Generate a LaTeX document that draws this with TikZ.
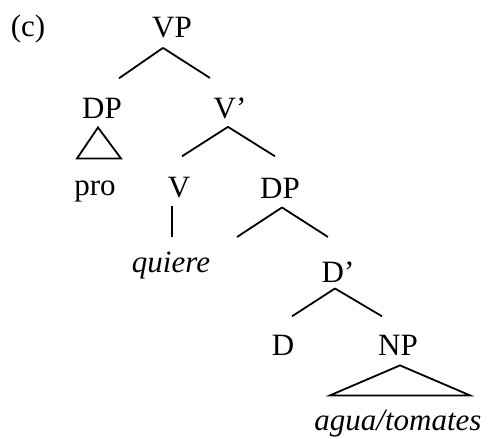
\documentclass[tikz,border=0pt]{standalone}
\usepackage{fontspec}
\setmainfont{Liberation Serif}
\tikzset{
  cat/.style={inner sep=0pt, anchor=base, font=\fontsize{15.5}{18}\selectfont},
  branch/.style={line width=0.9pt}
}
\begin{document}
\begin{tikzpicture}[x=0.5pt, y=-0.5pt]
\useasboundingbox (0,0) rectangle (488,439);
\node[cat] (lbl) at (28,36) {(c)};
\node[cat] (vp) at (172,38) {VP};
\node[cat] (dp) at (102,118) {DP};
\node[cat] (vbar) at (230,118) {V'};
\node[cat] (pro) at (95,195) {pro};
\node[cat] (v) at (179,197) {V};
\node[cat] (dp2) at (280,198) {DP};
\node[cat] (quiere) at (171,272) {\textit{quiere}};
\node[cat] (dbar) at (338,282) {D'};
\node[cat] (d) at (283,355) {D};
\node[cat] (np) at (398,355) {NP};
\node[cat] (agua) at (398,430) {\textit{agua/tomates}};
\coordinate (spec) at (237,237);
\draw[branch] ([shift={(-9,9)}]vp.south) -- ([shift={(17,-19)}]dp.north);
\draw[branch] ([shift={(-9,9)}]vp.south) -- ([shift={(-20,-19)}]vbar.north);
\draw[branch] ([shift={(-4,9)}]dp.south) -- ++(-21,31) -- ++(44,0) -- cycle;
\draw[branch] ([shift={(-2,8)}]vbar.south) -- ([shift={(3,-20)}]v.north);
\draw[branch] ([shift={(-2,8)}]vbar.south) -- ([shift={(-5,-21)}]dp2.north);
\draw[branch] ([shift={(-7,8)}]v.south) -- ([shift={(1,-14.5)}]quiere.north);
\draw[branch] ([shift={(2,9)}]dp2.south) -- (spec);
\draw[branch] ([shift={(2,9)}]dp2.south) -- ([shift={(-10,-24)}]dbar.north);
\draw[branch] ([shift={(-3,6)}]dbar.south) -- ([shift={(9,-18)}]d.north);
\draw[branch] ([shift={(-3,6)}]dbar.south) -- ([shift={(-16,-18)}]np.north);
\draw[branch] ([shift={(2,10)}]np.south) -- ++(-70,30) -- ++(140,0) -- cycle;
\end{tikzpicture}
\end{document}
